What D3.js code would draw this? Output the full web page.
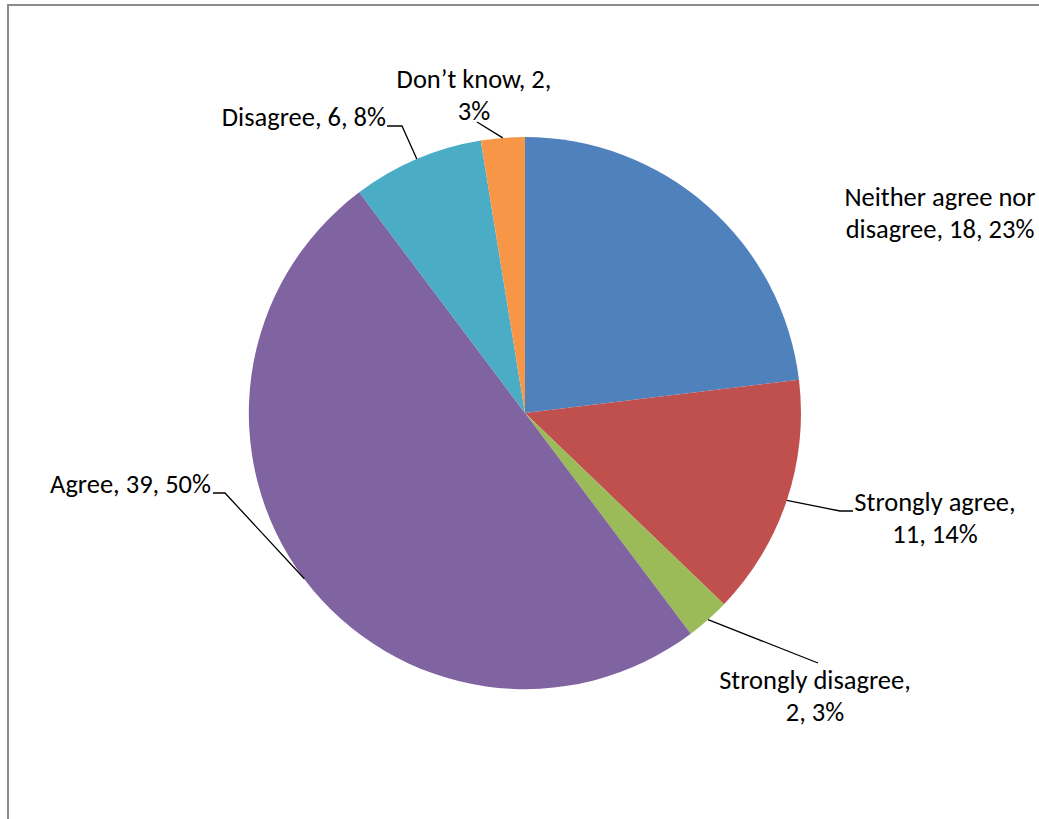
<!DOCTYPE html>
<html>
<head>
<meta charset="utf-8">
<script src="https://cdn.jsdelivr.net/npm/d3@7"></script>
<style>
  html, body { margin: 0; padding: 0; background: #fff; }
  svg { display: block; }
  text { font-family: Carlito, Lato, "Open Sans", sans-serif; fill: #000; }
</style>
</head>
<body>
<script>
// Survey responses, clockwise from 12 o'clock
const categories = ["Neither agree nor disagree", "Strongly agree", "Strongly disagree", "Agree", "Disagree", "Don\u2019t know"];
const counts = [18, 11, 2, 39, 6, 2];
const percents = [23, 14, 3, 50, 8, 3];
const colors = ["#4F81BD", "#C0504D", "#9BBB59", "#8064A2", "#4BACC6", "#F79646"];
// Label text split into lines as displayed
const labelLines = [
  ["Neither agree nor", "disagree, 18, 23%"],
  ["Strongly agree,", "11, 14%"],
  ["Strongly disagree,", "2, 3%"],
  ["Agree, 39, 50%"],
  ["Disagree, 6, 8%"],
  ["Don\u2019t know, 2,", "3%"]
];

const W = 1039, H = 819;
const cx = 525, cy = 413, R = 276;
const fontSize = 26.5, lineGap = 32;

// Label placement: anchor point of first baseline, alignment, and leader bend (relative to pie centre)
const labelLayout = [
  { x: 415, y: -207, anchor: "middle", leader: null },
  { x: 410, y: 98, anchor: "middle", leader: { bend: [315, 98], end: [328, 98] } },
  { x: 290, y: 276, anchor: "middle", leader: { bend: null, end: [293, 250] } },
  { x: -314, y: 80, anchor: "end", leader: { bend: [-300, 80], end: [-312, 80] } },
  { x: -139, y: -287, anchor: "end", leader: { bend: [-123, -287], end: [-138, -287] } },
  { x: -51, y: -325, anchor: "middle", leader: { bend: null, end: [-48, -291] } }
];

const data = categories.map((c, i) => ({ category: c, count: counts[i], pct: percents[i], color: colors[i], lines: labelLines[i], layout: labelLayout[i] }));

const svg = d3.select("body").append("svg").attr("width", W).attr("height", H);

// Chart frame
svg.append("rect")
  .attr("x", 8).attr("y", 5)
  .attr("width", W + 20).attr("height", H + 20)
  .attr("fill", "none").attr("stroke", "#8c8c8c").attr("stroke-width", 2);

const g = svg.append("g").attr("transform", `translate(${cx},${cy})`);

const pie = d3.pie().value(d => d.count).sort(null);
const arc = d3.arc().innerRadius(0).outerRadius(R);
const arcs = pie(data);

g.selectAll("path.slice")
  .data(arcs)
  .join("path")
  .attr("class", "slice")
  .attr("d", arc)
  .attr("fill", d => d.data.color);

// Leader lines from the outer edge at each slice's mid-angle
const edge = d => {
  const a = (d.startAngle + d.endAngle) / 2;
  return [R * Math.sin(a), -R * Math.cos(a)];
};

g.selectAll("path.leader")
  .data(arcs.filter(d => d.data.layout.leader))
  .join("path")
  .attr("class", "leader")
  .attr("fill", "none")
  .attr("stroke", "#000")
  .attr("stroke-width", 1.3)
  .attr("d", d => {
    const L = d.data.layout.leader;
    const pts = [edge(d)];
    if (L.bend) pts.push(L.bend);
    pts.push(L.end);
    return d3.line()(pts);
  });

const labels = g.selectAll("text.label")
  .data(arcs)
  .join("text")
  .attr("class", "label")
  .attr("font-size", fontSize)
  .attr("text-anchor", d => d.data.layout.anchor);

labels.selectAll("tspan")
  .data(d => d.data.lines.map((t, i) => ({ t, i, L: d.data.layout })))
  .join("tspan")
  .attr("x", d => d.L.x)
  .attr("y", d => d.L.y + d.i * lineGap)
  .text(d => d.t);
</script>
</body>
</html>
